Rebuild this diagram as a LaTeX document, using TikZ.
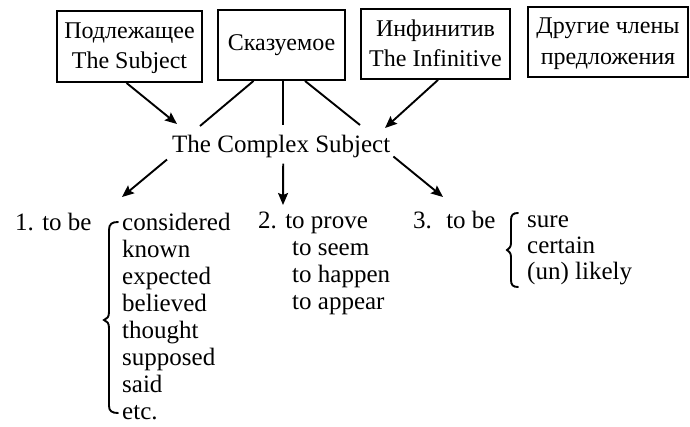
\documentclass[tikz,border=0pt]{standalone}
\usepackage{fontspec}
\setmainfont{Liberation Serif}
\usetikzlibrary{arrows.meta,calc}
\begin{document}
\begin{tikzpicture}[x=1pt,y=-1pt,
  box/.style={draw,line width=1.9pt,align=center,inner sep=0pt,font=\fontsize{24}{30.5}\selectfont},
  lbl/.style={anchor=base west,inner sep=0pt,font=\fontsize{25}{27}\selectfont},
  conn/.style={line width=1.9pt},
  arr/.style={conn,-{Stealth[length=12pt,width=10pt,inset=2pt]}},
  brace/.style={line width=1.9pt,line cap=round}]
\useasboundingbox (0,0) rectangle (690,426);

% top boxes
\node[box,minimum width=145pt,minimum height=71pt,text depth=2pt] (b1) at (129.5,46.5) {Подлежащее\\The Subject};
\node[box,minimum width=127pt,minimum height=70pt] (b2) at (281.5,45) {Сказуемое};
\node[box,minimum width=149pt,minimum height=70pt,text depth=2pt] (b3) at (435.5,44) {Инфинитив\\The Infinitive};
\node[box,minimum width=160pt,minimum height=70pt,text depth=2pt] (b4) at (608,42) {Другие члены\\предложения};

% centre
\node[lbl] (cs) at (172,152) {The Complex Subject};

% lower labels
\node[lbl] (g1) at (15,230) {1. to be};
\node[lbl] (w1) at (122,230) {considered};
\node[lbl] (w2) at (122,257) {known};
\node[lbl] (w3) at (122,284) {expected};
\node[lbl] (w4) at (122,311) {believed};
\node[lbl] (w5) at (122,338) {thought};
\node[lbl] (w6) at (122,365) {supposed};
\node[lbl] (w7) at (122,392) {said};
\node[lbl] (w8) at (122,419) {etc.};

\node[lbl] (g2) at (258,228) {2. to prove};
\node[lbl] (v2) at (292,255) {to seem};
\node[lbl] (v3) at (292,282) {to happen};
\node[lbl] (v4) at (292,309) {to appear};

\node[lbl] (g3) at (413,228) {3.\hspace{6pt} to be};
\node[lbl] (s1) at (527,227) {sure};
\node[lbl] (s2) at (527,253) {certain};
\node[lbl] (s3) at (527,279) {(un) likely};

% connector end points
\coordinate (t1) at (177,124);
\coordinate (c2a) at (200,126);
\coordinate (c2b) at (283,125);
\coordinate (c2c) at (360,125);
\coordinate (t3) at (385,128);
\coordinate (d1) at (122,197);
\coordinate (d2) at (283,205);
\coordinate (d3) at (443,197);

% upper connectors
\draw[arr] ($(b1.south)+(-3,0)$) -- (t1);
\draw[conn] ($(b2.south)+(-28,0)$) -- (c2a);
\draw[conn] ($(b2.south)+(1.5,0)$) -- (c2b);
\draw[conn] ($(b2.south)+(23.5,0)$) -- (c2c);
\draw[arr] ($(b3.south)+(2.5,0)$) -- (t3);

% lower connectors
\draw[arr] ($(cs.south west)+(-5,2)$) -- (d1);
\draw[arr] ($(cs.south)+(2,6)$) -- (d2);
\draw[arr] ($(cs.south east)+(3,-1)$) -- (d3);

% braces
\draw[brace] (118,222) .. controls (112,222) and (109,224) .. (109,230) -- (109,312)
  .. controls (109,317) and (107,319) .. (104,320)
  .. controls (107,321) and (109,323) .. (109,328) -- (109,406)
  .. controls (109,411) and (112,413) .. (118,413);
\draw[brace] (518,213) .. controls (513,213) and (511,215) .. (511,220) -- (511,243)
  .. controls (511,247) and (509,249) .. (507,250)
  .. controls (509,251) and (511,253) .. (511,257) -- (511,280)
  .. controls (511,285) and (513,287) .. (518,287);
\end{tikzpicture}
\end{document}
